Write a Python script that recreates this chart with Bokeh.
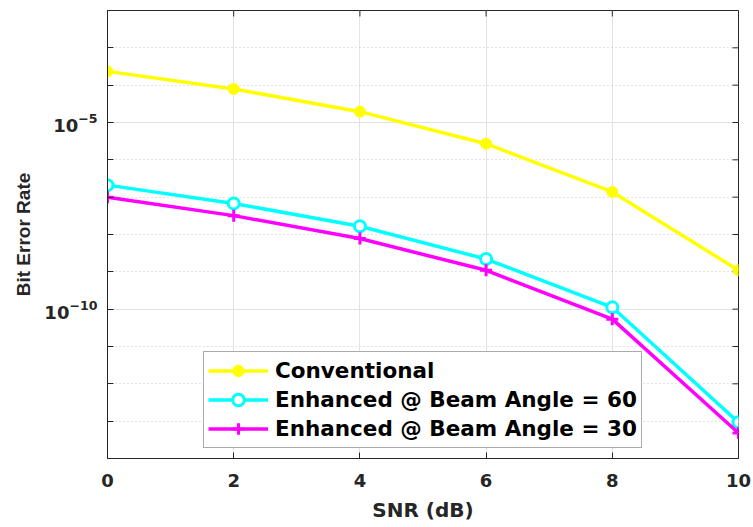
from bokeh.plotting import figure
from bokeh.models import Range1d, FixedTicker, Legend, LegendItem, LogTickFormatter
from bokeh.embed import file_html
from bokeh.resources import INLINE

snr = [0, 2, 4, 6, 8, 10]
ber_conventional = [2.34e-4, 7.9e-5, 1.95e-5, 2.7e-6, 1.38e-7, 1.1e-9]
ber_beam60 = [2.1e-7, 6.8e-8, 1.66e-8, 2.2e-9, 1.12e-10, 9.3e-14]
ber_beam30 = [1.0e-7, 3.2e-8, 7.8e-9, 1.1e-9, 5.4e-11, 4.8e-14]

series_names = ["Conventional", "Enhanced @ Beam Angle = 60", "Enhanced @ Beam Angle = 30"]
x_ticks = [0, 2, 4, 6, 8, 10]
y_major = [1e-10, 1e-5]
y_minor = [1e-14, 1e-13, 1e-12, 1e-11, 1e-9, 1e-8, 1e-7, 1e-6, 1e-4, 1e-3, 1e-2]

FONT_H = "DejaVu Sans"
FONT_V = "Liberation Sans"
DARK = "#262626"

W, H = 753, 527
BL, BR, BT, BB = 107, 15, 10, 69
X0, X1 = 0, 10
Y0, Y1 = 1e-14, 1e-2

p = figure(width=W, height=H, y_axis_type="log",
           x_range=Range1d(X0, X1), y_range=Range1d(Y0, Y1),
           output_backend="svg", toolbar_location=None,
           min_border_left=BL, min_border_right=BR, min_border_top=BT, min_border_bottom=BB)

p.background_fill_color = "white"
p.border_fill_color = "white"
p.outline_line_color = DARK
p.outline_line_width = 1

p.xaxis.ticker = FixedTicker(ticks=x_ticks, minor_ticks=[])
p.yaxis.ticker = FixedTicker(ticks=y_major, minor_ticks=y_minor + y_major)
p.yaxis.formatter = LogTickFormatter()

for ax in [p.xaxis[0], p.yaxis[0]]:
    ax.axis_line_color = DARK
    ax.major_tick_line_color = DARK
    ax.minor_tick_line_color = DARK
    ax.major_tick_in = 6
    ax.major_tick_out = 0
    ax.minor_tick_in = 6
    ax.minor_tick_out = 0
    ax.major_label_text_font = FONT_H
    ax.major_label_text_font_style = "bold"
    ax.major_label_text_font_size = "18px"
    ax.major_label_text_color = DARK
    ax.axis_label_text_font_style = "bold"
    ax.axis_label_text_color = DARK

p.xaxis.axis_label = "SNR (dB)"
p.xaxis.axis_label_text_font = FONT_H
p.xaxis.axis_label_text_font_size = "20px"
p.yaxis.axis_label = "Bit Error Rate"
p.yaxis.axis_label_text_font = FONT_V
p.yaxis.axis_label_text_font_size = "19px"
p.xaxis.major_label_standoff = 15
p.xaxis.axis_label_standoff = 8
p.yaxis.major_label_standoff = 10
p.yaxis.axis_label_standoff = 7

# grids
p.xgrid.ticker = FixedTicker(ticks=x_ticks)
p.xgrid.grid_line_color = "#e3e3e3"
p.xgrid.grid_line_width = 1
p.ygrid.ticker = FixedTicker(ticks=y_major, minor_ticks=y_minor)
p.ygrid.grid_line_color = "#e3e3e3"
p.ygrid.grid_line_width = 1
p.ygrid.minor_grid_line_color = "#c8c8c8"
p.ygrid.minor_grid_line_dash = "1 3"
p.ygrid.minor_grid_line_width = 1

# mirrored inward ticks on top and right edges (6 px long)
frame_w = W - BL - BR
frame_h = H - BT - BB
tick_len = 6
dx = tick_len * (X1 - X0) / frame_w
dec_per_px = (14 - 2) / frame_h
fy = 10 ** (tick_len * dec_per_px)
right_ticks = y_minor + y_major
p.segment(x0=[X1] * len(right_ticks), x1=[X1 - dx] * len(right_ticks),
          y0=right_ticks, y1=right_ticks, line_color=DARK, line_width=1)
p.segment(x0=x_ticks, x1=x_ticks, y0=[Y1] * len(x_ticks), y1=[Y1 / fy] * len(x_ticks),
          line_color=DARK, line_width=1)

# data
l1 = p.line(snr, ber_conventional, line_color="#FFFF00", line_width=3.5)
s1 = p.scatter(snr, ber_conventional, marker="circle", size=11,
               fill_color="#FFFF00", line_color="#FFFF00")
l2 = p.line(snr, ber_beam60, line_color="#00FFFF", line_width=3.5)
s2 = p.scatter(snr, ber_beam60, marker="circle", size=11, fill_color="white",
               line_color="#00FFFF", line_width=3)
l3 = p.line(snr, ber_beam30, line_color="#FF00FF", line_width=3.5)
s3 = p.scatter(snr, ber_beam30, marker="cross", size=12,
               line_color="#FF00FF", line_width=3)

legend = Legend(items=[LegendItem(label=series_names[0], renderers=[l1, s1]),
                       LegendItem(label=series_names[1], renderers=[l2, s2]),
                       LegendItem(label=series_names[2], renderers=[l3, s3])],
                location=(96, 10))
legend.label_text_font = FONT_H
legend.label_text_font_style = "bold"
legend.label_text_font_size = "21.5px"
legend.label_text_color = "black"
legend.label_height = 29
legend.glyph_height = 29
legend.glyph_width = 60
legend.label_standoff = 7
legend.spacing = 0
legend.padding = 4
legend.margin = 0
legend.border_line_color = "#555555"
legend.border_line_width = 1
legend.background_fill_color = "white"
legend.background_fill_alpha = 1
p.add_layout(legend, "center")

open("out.html", "w").write(file_html(p, INLINE))
